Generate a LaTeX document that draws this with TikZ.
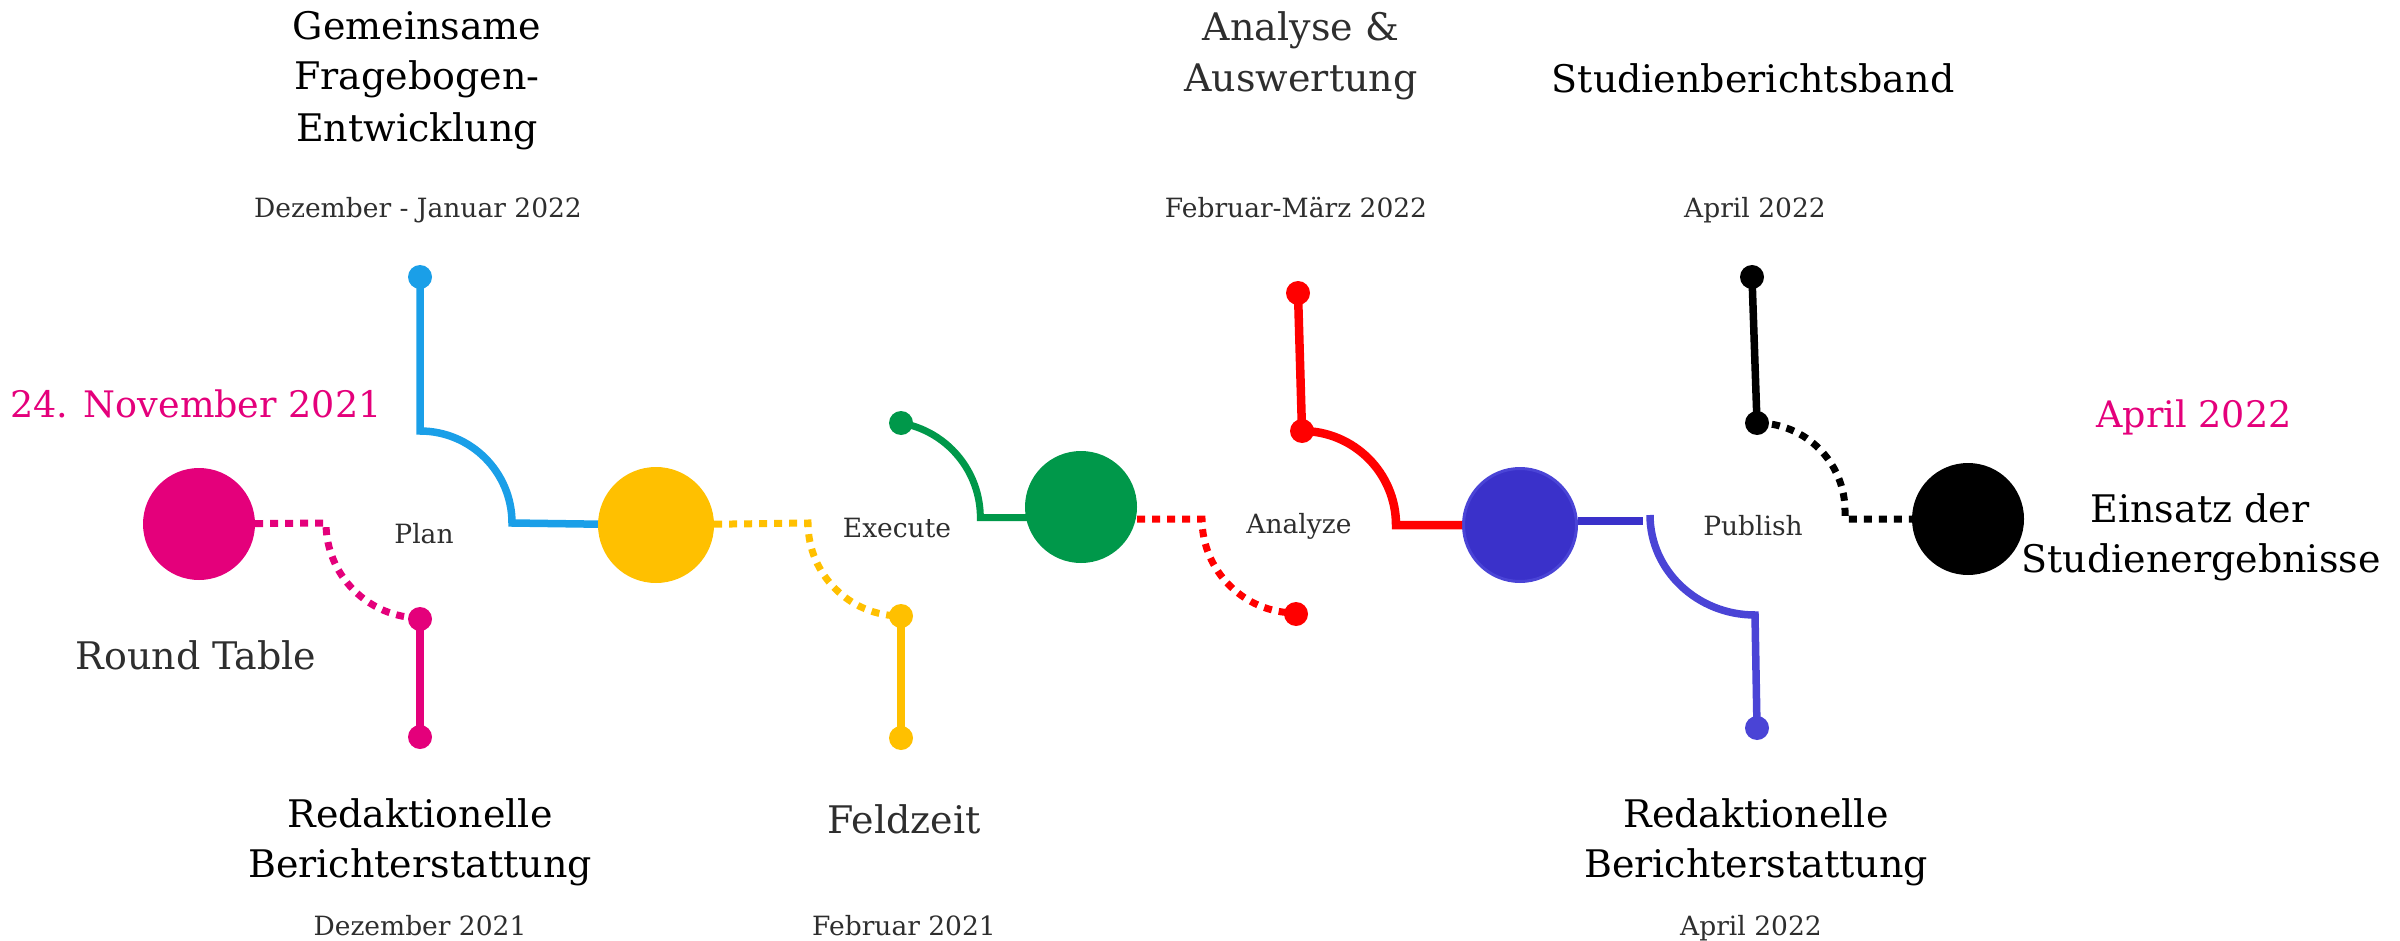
\documentclass[tikz,border=0pt]{standalone}
\usepackage{fontspec}
\setmainfont{DejaVu Serif}
\definecolor{cMag}{HTML}{E4007B}
\definecolor{cSky}{HTML}{1A9FE8}
\definecolor{cYel}{HTML}{FFC000}
\definecolor{cGrn}{HTML}{00984A}
\definecolor{cRed}{HTML}{FF0000}
\definecolor{cInd}{HTML}{3A31CA}
\definecolor{cIndL}{HTML}{4A44D6}
\definecolor{cGray}{HTML}{2E2E2E}
\tikzset{
  titlelbl/.style={font=\fontsize{38}{46}\selectfont, text=black, anchor=base, inner sep=0pt},
  graytitle/.style={titlelbl, text=cGray},
  pinklbl/.style={font=\fontsize{36.5}{44}\selectfont, text=cMag, anchor=base, inner sep=0pt},
  datelbl/.style={font=\fontsize{26.5}{32}\selectfont, text=cGray, anchor=base, inner sep=0pt},
  bigdot/.style={circle, inner sep=0pt, minimum size=112pt},
  smalldot/.style={circle, inner sep=0pt, minimum size=24pt},
  solidline/.style={line width=7.5pt},
  dotline/.style={line width=7pt, dash pattern=on 8pt off 7pt},
}
\begin{document}
\begin{tikzpicture}[x=1pt,y=-1pt]
\useasboundingbox (0,0) rectangle (2400,941);

% big stations
\node[bigdot, fill=cMag] (rt) at (199,524) {};
\node[bigdot, fill=cYel, minimum size=116pt] (ye) at (656,525) {};
\node[bigdot, fill=cGrn] (gr) at (1081,507) {};
\node[bigdot, fill=cInd, draw=cIndL, line width=3pt, minimum size=113pt] (in) at (1520,525) {};
\node[bigdot, fill=black] (bk) at (1968,519) {};

% small dots
\node[smalldot, fill=cSky] (p1) at (420,277) {};
\node[smalldot, fill=cMag] (m1) at (420,619) {};
\node[smalldot, fill=cMag] (m2) at (420,737) {};
\node[smalldot, fill=cYel] (y1) at (901,616) {};
\node[smalldot, fill=cYel] (y2) at (901,738) {};
\node[smalldot, fill=cGrn] (g1) at (901,423) {};
\node[smalldot, fill=cRed] (r1) at (1298,293) {};
\node[smalldot, fill=cRed] (r2) at (1302,431) {};
\node[smalldot, fill=cRed] (r3) at (1296,614) {};
\node[smalldot, fill=cIndL] (u1) at (1757,728) {};
\node[smalldot, fill=black] (k1) at (1752,277) {};
\node[smalldot, fill=black] (k2) at (1757,423) {};

% bend coordinates
\coordinate (pA) at (420,431);
\coordinate (mA) at (326,523);
\coordinate (yA) at (808,523);
\coordinate (rA) at (1202,519);
\coordinate (iA) at (1643,521);
\coordinate (iB) at (1650,515);

% blue (plan)
\draw[solidline, cSky] (p1.center) -- (pA) arc[start angle=-90, end angle=0, radius=92] -- (ye);
% magenta dotted + branch
\draw[dotline, cMag] (rt) -- (mA) arc[start angle=180, end angle=90, radius=95];
\draw[solidline, cMag] (m1.center) -- (m2.center);
% yellow dotted + branch
\draw[dotline, cYel] (ye) -- (yA) arc[start angle=180, end angle=90, radius=93];
\draw[solidline, cYel] (y1.center) -- (y2.center);
% green
\draw[line width=7pt, cGrn] (g1.center) arc[start angle=-80, end angle=0, radius=96] -- ++(48,0);
% red dotted
\draw[dotline, cRed] (gr.east |- rA) -- (rA) arc[start angle=180, end angle=90, radius=94];
% red solid
\draw[line width=8.5pt, cRed] (r1.center) -- (r2.center) arc[start angle=-90, end angle=0, radius=94] -- (in);
% indigo
\draw[solidline, cInd] (in.east |- iA) -- (iA);
\draw[solidline, cIndL] (iB) arc[start angle=180, end angle=90, x radius=105, y radius=100] -- (u1.center);
% black
\draw[solidline, black] (k1.center) -- (k2.center);
\draw[dotline, black] (k2.center) arc[start angle=-90, end angle=0, radius=88] -- ++(0,8) -- (bk);

% texts
\node[titlelbl] (t1a) at (417,40) {Gemeinsame};
\node[titlelbl] (t1b) at (417,90) {Fragebogen-};
\node[titlelbl] (t1c) at (417,142) {Entwicklung};
\node[datelbl] (d1) at (418,218) {Dezember - Januar 2022};

\node[pinklbl] (pk1) at (196,417) {24. November 2021};
\node[datelbl] (l1) at (424,543) {Plan};
\node[graytitle] (rtl) at (196,669) {Round Table};

\node[titlelbl] (t2a) at (420,827) {Redaktionelle};
\node[titlelbl] (t2b) at (420,877) {Berichterstattung};
\node[datelbl] (d2) at (420,935) {Dezember 2021};

\node[datelbl] (l2) at (897,537) {Execute};
\node[graytitle] (t3) at (904,833) {Feldzeit};
\node[datelbl] (d3) at (904,935) {Februar 2021};

\node[graytitle] (t4a) at (1301,41) {Analyse \&};
\node[graytitle] (t4b) at (1301,92) {Auswertung};
\node[datelbl] (d4) at (1296,218) {Februar-März 2022};
\node[datelbl] (l3) at (1299,533) {Analyze};

\node[titlelbl] (t5) at (1753,93) {Studienberichtsband};
\node[datelbl] (d5) at (1755,218) {April 2022};
\node[datelbl] (l4) at (1753,535) {Publish};

\node[titlelbl] (t6a) at (1756,827) {Redaktionelle};
\node[titlelbl] (t6b) at (1756,877) {Berichterstattung};
\node[datelbl] (d6) at (1751,935) {April 2022};

\node[pinklbl] (pk2) at (2194,427) {April 2022};
\node[titlelbl] (t7a) at (2200,522) {Einsatz der};
\node[titlelbl] (t7b) at (2201,572) {Studienergebnisse};
\end{tikzpicture}
\end{document}
